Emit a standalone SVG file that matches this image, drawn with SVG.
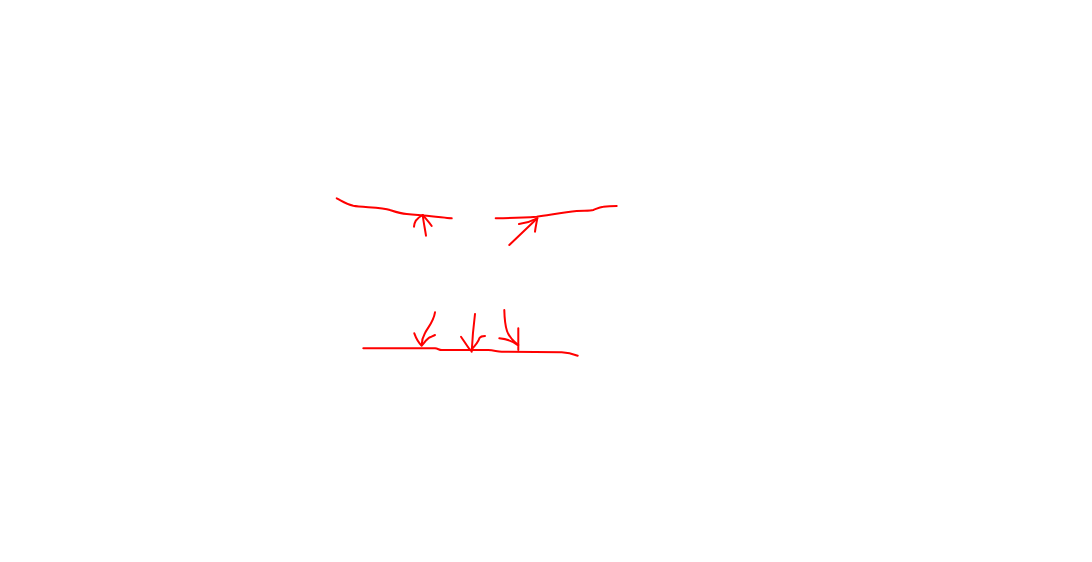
<svg xmlns="http://www.w3.org/2000/svg" width="1092" height="562" viewBox="0 0 1092 562">
<style>
.s{fill:none;stroke:#ff0000;stroke-width:2;stroke-linecap:round;stroke-linejoin:round}
</style>
<rect width="1092" height="562" fill="#ffffff"/>
<g id="sketch">
<path class="s" d="M336.7,198.3 C342,201 346,204 353.3,205.7 C362,207.5 382,207 390,210 C396,212 400,213.5 406.7,214 C414,215 418,215 423.3,215.5 C435,216.5 443,217.5 451.7,218.3"/>
<path class="s" d="M426,235.7 C425,229 423.5,222 422.7,215"/>
<path class="s" d="M414,226.7 C414.5,222 415.5,219 422.7,215 C426,219 429,222 431.7,226"/>
<path class="s" d="M495.7,218.3 C512,218 525,217.5 536.7,216.7 C552,214.5 565,212 576.7,211 C584,210.5 590,211 593.3,210 C597,208.5 600,207 603.3,206.7 C609,206 613,206 616.7,206"/>
<path class="s" d="M509.3,245 L537.3,218.3"/>
<path class="s" d="M519,224 C526,223 532,221 537.3,218.3 C536.5,223 535.5,227 535,231.7"/>
<path class="s" d="M363.3,348.3 L435,348.3 C438,348.5 439,350 441.7,350 L468.3,350 L488.3,350 C494,350.3 497,351.5 501.7,351.7 L561.7,352.3 C568,352.6 573,354 577.7,355.7"/>
<path class="s" d="M435,312.3 C433.5,322 428,327 425,333 C422.5,337.5 421.7,341 421.7,345"/>
<path class="s" d="M414.3,333.3 C416,338 418,342 421.7,345.7 C425,342 427,338.5 430,337.3 C432,336.5 433.5,335.5 435,335"/>
<path class="s" d="M475,314 C473.5,326 472.3,339 471.7,351.7"/>
<path class="s" d="M461,336.7 C464,341 467,346 470.5,350.5 C474,347 478,343 479.5,338 C480.5,336.5 483,336 485,336"/>
<path class="s" d="M504.3,310 C504.5,318 505,325 507,331 C509,337 513,341 518.3,345"/>
<path class="s" d="M499.3,338.3 C507,339 513,341 518.3,345.5 M518.3,328.3 L518.3,350"/>
</g>
</svg>
